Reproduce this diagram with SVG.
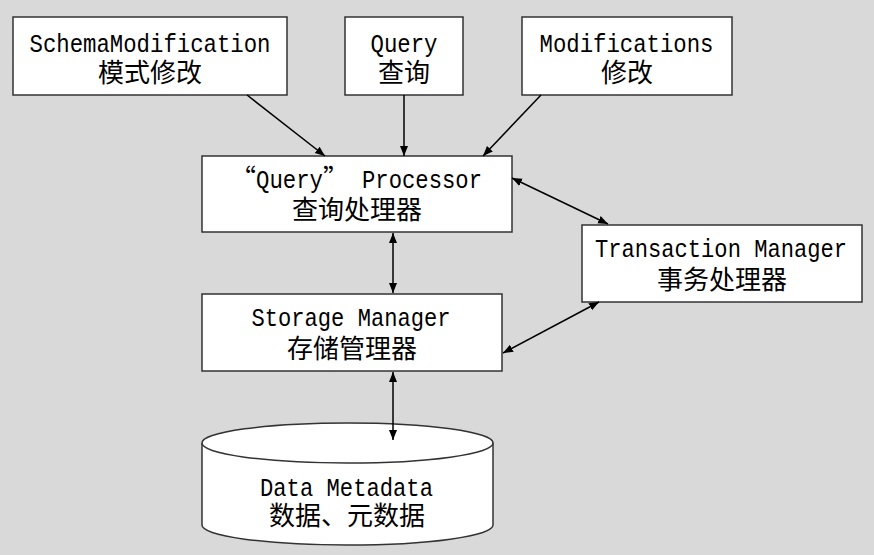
<svg xmlns="http://www.w3.org/2000/svg" width="874" height="555" viewBox="0 0 874 555">
<defs>
<marker id="ah" viewBox="0 0 10 10" refX="10" refY="5" markerWidth="10" markerHeight="10" markerUnits="userSpaceOnUse" orient="auto-start-reverse">
<path d="M0,1 L10,5 L0,9 Z" fill="#000"/>
</marker>
<style>
.box{fill:#fff;stroke:#333;stroke-width:1.5}
.lat{font-family:"Liberation Mono","DejaVu Sans Mono",monospace;font-size:25px;fill:#000}
.cjk{font-family:"Noto Sans CJK SC","Noto Sans CJK JP",sans-serif;font-size:26px;fill:#000}
.m{text-anchor:middle}
.ln{stroke:#000;stroke-width:1.5;fill:none}
</style>
</defs>
<rect width="874" height="555" fill="#d9d9d9"/>
<g id="schema">
<rect class="box" x="13" y="17" width="274" height="78"/>
<text class="lat m" x="150" y="52" textLength="241" lengthAdjust="spacingAndGlyphs">SchemaModification</text>
<text class="cjk m" x="150" y="82">模式修改</text>
</g>
<g id="query">
<rect class="box" x="345" y="17" width="118" height="78"/>
<text class="lat m" x="404" y="52" textLength="67" lengthAdjust="spacingAndGlyphs">Query</text>
<text class="cjk m" x="404" y="82">查询</text>
</g>
<g id="modifications">
<rect class="box" x="522" y="17" width="210" height="78"/>
<text class="lat m" x="626.5" y="52" textLength="174" lengthAdjust="spacingAndGlyphs">Modifications</text>
<text class="cjk m" x="627" y="82">修改</text>
</g>
<g id="processor">
<rect class="box" x="202" y="156" width="310" height="76"/>
<text class="cjk" x="256" y="188" text-anchor="end">“</text>
<text class="lat" x="256" y="188" textLength="67" lengthAdjust="spacingAndGlyphs">Query</text>
<text class="cjk" x="323" y="188">”</text>
<text class="lat" x="362" y="188" textLength="120" lengthAdjust="spacingAndGlyphs">Processor</text>
<text class="cjk m" x="357" y="219">查询处理器</text>
</g>
<g id="transaction">
<rect class="box" x="582" y="225" width="280" height="77"/>
<text class="lat m" x="721" y="257" textLength="252" lengthAdjust="spacingAndGlyphs">Transaction Manager</text>
<text class="cjk m" x="722" y="289">事务处理器</text>
</g>
<g id="storage">
<rect class="box" x="202" y="294" width="300" height="77"/>
<text class="lat m" x="351" y="326" textLength="199" lengthAdjust="spacingAndGlyphs">Storage Manager</text>
<text class="cjk m" x="352" y="358">存储管理器</text>
</g>
<g id="data">
<path class="box" d="M202,443 L202,525 A145.5,20 0 0,0 493,525 L493,443"/>
<ellipse class="box" cx="347.5" cy="443" rx="145.5" ry="20"/>
<text class="lat m" x="346.5" y="496" textLength="173" lengthAdjust="spacingAndGlyphs">Data Metadata</text>
<text class="cjk m" x="347" y="525">数据、元数据</text>
</g>
<g id="connectors">
<line class="ln" x1="247" y1="95" x2="325" y2="156" marker-end="url(#ah)"/>
<line class="ln" x1="404" y1="95" x2="404" y2="156" marker-end="url(#ah)"/>
<line class="ln" x1="541" y1="95" x2="483" y2="156" marker-end="url(#ah)"/>
<line class="ln" x1="512" y1="178" x2="608" y2="224" marker-start="url(#ah)" marker-end="url(#ah)"/>
<line class="ln" x1="599" y1="302" x2="503" y2="353" marker-start="url(#ah)" marker-end="url(#ah)"/>
<line class="ln" x1="393" y1="233" x2="393" y2="293" marker-start="url(#ah)" marker-end="url(#ah)"/>
<line class="ln" x1="393" y1="372" x2="393" y2="440" marker-start="url(#ah)" marker-end="url(#ah)"/>
</g>
</svg>
